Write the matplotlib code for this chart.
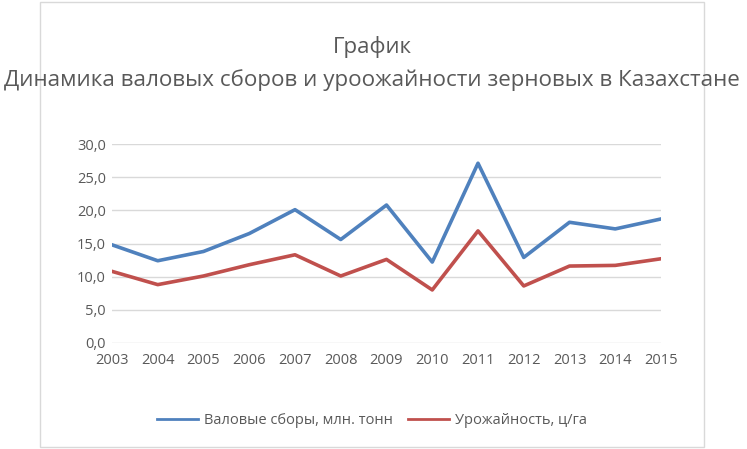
import matplotlib
matplotlib.use("Agg")
import matplotlib.pyplot as plt
from matplotlib import font_manager
from matplotlib.patches import Rectangle

years = [2003, 2004, 2005, 2006, 2007, 2008, 2009, 2010, 2011, 2012, 2013, 2014, 2015]
gross = [14.8, 12.4, 13.8, 16.5, 20.1, 15.6, 20.8, 12.2, 27.1, 12.9, 18.2, 17.2, 18.7]
yield_ = [10.8, 8.8, 10.1, 11.8, 13.3, 10.1, 12.6, 8.0, 16.9, 8.6, 11.6, 11.7, 12.7]
yticks = [0, 5, 10, 15, 20, 25, 30]
ytick_labels = ["0,0", "5,0", "10,0", "15,0", "20,0", "25,0", "30,0"]
title1 = "График"
title2 = "Динамика валовых сборов и уроожайности зерновых в Казахстане"
label_gross = "Валовые сборы, млн. тонн"
label_yield = "Урожайность, ц/га"

avail = {f.name for f in font_manager.fontManager.ttflist}
fam = [f for f in ["Liberation Sans Narrow", "Open Sans", "DejaVu Sans"] if f in avail]
plt.rcParams['font.family'] = fam

W, H = 747, 449
fig = plt.figure(figsize=(W / 100, H / 100), dpi=100)
fig.patch.set_facecolor("white")
fig.add_artist(Rectangle((40 / W, 2 / H), 664 / W, 445 / H, transform=fig.transFigure,
                         fill=False, edgecolor="#D9D9D9", linewidth=1.0))

ax = fig.add_axes([112 / W, 1 - 343 / H, (661 - 112) / W, (343 - 144) / H])
ax.plot(years, gross, color="#4F81BD", linewidth=2.6, label=label_gross, solid_joinstyle="round")
ax.plot(years, yield_, color="#C0504D", linewidth=2.6, label=label_yield, solid_joinstyle="round")
ax.set_xlim(2003, 2015)
ax.set_ylim(0, 30)
ax.set_xticks(years)
ax.set_xticklabels([str(y) for y in years])
ax.set_yticks(yticks)
ax.set_yticklabels(ytick_labels)
ax.tick_params(length=0, labelsize=10.5, colors="#595959")
ax.tick_params(axis="x", pad=7)
ax.tick_params(axis="y", pad=4.5)
for s in ax.spines.values():
    s.set_visible(False)
ax.grid(axis="y", color="#D9D9D9", linewidth=1.0)
ax.set_axisbelow(True)

fig.text(372 / W, 1 - 47 / H, title1, ha="center", va="center", fontsize=16, color="#595959")
t2 = fig.text(372 / W, 1 - 80 / H, title2, ha="center", va="center", fontsize=15, color="#595959")
# fit title width to ~737 px
fig.canvas.draw()
w = t2.get_window_extent().width
t2.set_fontsize(15 * 737 / w)

leg = fig.legend(loc="center", bbox_to_anchor=(372 / W, 1 - 421 / H), ncol=2, frameon=False,
                 fontsize=10.5, handlelength=2.8, columnspacing=1.0, handletextpad=0.45)
for t in leg.get_texts():
    t.set_color("#595959")
for l in leg.get_lines():
    l.set_linewidth(2.0)

fig.savefig("out.png", dpi=100)
